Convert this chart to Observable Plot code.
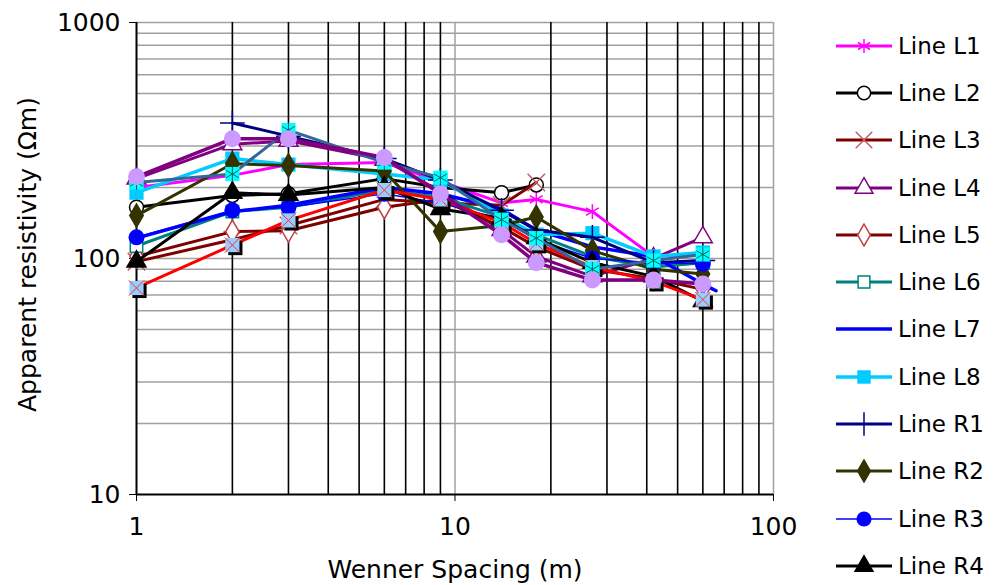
<!DOCTYPE html>
<html>
<head>
<meta charset="utf-8">
<script src="https://cdn.jsdelivr.net/npm/d3@7"></script>
<script src="https://cdn.jsdelivr.net/npm/@observablehq/plot@0.6"></script>
<style>
  body { margin: 0; background: #fff; }
  #wrap { position: relative; width: 997px; height: 585px; font-family: "DejaVu Sans", sans-serif; }
  #legend { position: absolute; left: 834px; top: 22px; }
  .row { display: flex; align-items: center; height: 47.3px; }
  .row span { font-size: 23px; color: #000; margin-left: 4px; }
</style>
</head>
<body>
<div id="wrap"><div id="chart"></div><div id="legend"></div></div>
<script>
// Wenner spacing (m)
const spacing = [1, 2, 3, 6, 9, 14, 18, 27, 42, 60, 66];
// Apparent resistivity (Ωm) per line; null = no reading
const lineL1 = [200, 225, 250, 255, 212, 172, 178, 158, 102, 105, null];
const lineL2 = [165, 185, 188, 218, 200, 190, 205, null, null, null, null];
const lineL3 = [97, 120, 138, 178, 172, 168, 210, null, null, null, null];
const lineL4 = [218, 305, 315, 262, 192, 132, 102, 84, 100, 123, null];
const lineL5 = [102, 130, 131, 165, 178, 136, 112, 90, 82, 74, null];
const lineL6 = [113, 158, 165, 195, 182, 150, 126, 102, 92, 96, null];
const lineL7 = [122, 158, 168, 200, 188, 162, 132, 112, 102, 78, 73];
const lineL8 = [190, 265, 250, 228, 215, 152, 126, 128, 102, 106, null];
const lineR1 = [null, 375, 330, 265, 215, 160, 132, 123, 96, 98, null];
const lineR2 = [152, 252, 248, 235, 130, 138, 150, 108, 90, 86, null];
const lineR3 = [123, 160, 165, 188, 172, 147, 120, 100, 96, 95, null];
const lineR4 = [97, 190, 186, 200, 162, 148, 122, 96, 84, 66, null];
const lineR5 = [75, 114, 145, 195, 178, 142, 116, 92, 80, 67, null];
const lineR6 = [210, 228, 350, 255, 220, 146, 122, 90, 98, 104, null];
const lineR7 = [222, 322, 322, 268, 188, 126, 96, 81, 81, 78, null];

const legendNames = ["Line L1","Line L2","Line L3","Line L4","Line L5","Line L6","Line L7","Line L8","Line R1","Line R2","Line R3","Line R4"];
const yTicks = [10, 100, 1000];
const xTicks = [1, 10, 100];
const yGrid = [20,30,40,50,60,70,80,90,100,200,300,400,500,600,700,800,900,1000];
const xMinor = [2,3,4,5,6,7,8,9,20,30,40,50,60,70,80,90];
const xMajor = [10, 100];

// style per series (drawing order = list order)
const series = [
  {name: "Line L1", vals: lineL1, color: "#FF00FF", w: 3, m: [{symbol: "asterisk", stroke: "#FF00FF", r: 7, sw: 1.5}]},
  {name: "Line L2", vals: lineL2, color: "#000000", w: 3, m: [{symbol: "circle", fill: "#fff", stroke: "#000", r: 7, sw: 1.5}]},
  {name: "Line L3", vals: lineL3, color: "#800000", w: 3, m: [{symbol: "times", stroke: "#C06060", r: 8, sw: 1.5}]},
  {name: "Line L4", vals: lineL4, color: "#800080", w: 3, m: [{symbol: "triangle", fill: "#fff", stroke: "#800080", r: 7, sw: 1.5}]},
  {name: "Line L5", vals: lineL5, color: "#800000", w: 3, m: [{symbol: "diamond", fill: "#fff", stroke: "#C04040", r: 7, sw: 1.5}]},
  {name: "Line L6", vals: lineL6, color: "#008080", w: 3, m: [{symbol: "square", fill: "#fff", stroke: "#008080", r: 7, sw: 1.5}]},
  {name: "Line L7", vals: lineL7, color: "#0000FF", w: 3.5, m: []},
  {name: "Line L8", vals: lineL8, color: "#00CCFF", w: 3.5, m: [{symbol: "square", fill: "#00CCFF", r: 8}]},
  {name: "Line R1", vals: lineR1, color: "#000080", w: 3, m: [{symbol: "plus", stroke: "#000080", r: 8, sw: 1.5}]},
  {name: "Line R2", vals: lineR2, color: "#333300", w: 3, m: [{symbol: "diamond", fill: "#333300", r: 8}]},
  {name: "Line R3", vals: lineR3, color: "#0000FF", w: 1.5, m: [{symbol: "circle", fill: "#0000FF", r: 8}]},
  {name: "Line R4", vals: lineR4, color: "#000000", w: 3, m: [{symbol: "triangle", fill: "#000", r: 8}]},
  {name: "Line R5", vals: lineR5, color: "#FF0000", w: 3, m: [{symbol: "square", fill: "#000", r: 8, dx: 3, dy: 3}, {symbol: "square", fill: "#99CCFF", r: 8}, {symbol: "times", stroke: "#FF3030", r: 7, sw: 1}]},
  {name: "Line R6", vals: lineR6, color: "#336699", w: 3, m: [{symbol: "square", fill: "#00FFFF", r: 8}, {symbol: "asterisk", stroke: "#006666", r: 7, sw: 1}]},
  {name: "Line R7", vals: lineR7, color: "#800080", w: 3.5, m: [{symbol: "circle", fill: "#CC99FF", r: 8.5}]}
];

const rows = [];
for (const s of series) spacing.forEach((x, i) => { if (s.vals[i] != null) rows.push({name: s.name, x, y: s.vals[i]}); });

const marks = [
  Plot.ruleY(yGrid, {stroke: "#A0A0A0", strokeWidth: 1.5}),
  Plot.ruleX(xMinor, {stroke: "#000", strokeWidth: 1.6}),
  Plot.ruleX(xMajor, {stroke: "#A0A0A0", strokeWidth: 1.5}),
  Plot.ruleX([1], {stroke: "#000", strokeWidth: 2}),
  Plot.ruleY([10], {stroke: "#000", strokeWidth: 2}),
  Plot.axisY({ticks: yTicks, tickFormat: d => String(d), tickSize: 7, tickPadding: 9, fontSize: 25, label: null}),
  Plot.axisX({ticks: xTicks, tickFormat: d => String(d), tickSize: 7, tickPadding: 16, fontSize: 25, label: null}),
  Plot.text(["Wenner Spacing (m)"], {frameAnchor: "bottom", dy: 83, fontSize: 25, lineAnchor: "bottom"}),
  Plot.text(["Apparent resistivity (Ωm)"], {frameAnchor: "left", textAnchor: "middle", dx: -109, dy: -4, rotate: -90, fontSize: 25})
];
for (const s of series) {
  const d = rows.filter(r => r.name === s.name);
  marks.push(Plot.line(d, {x: "x", y: "y", stroke: s.color, strokeWidth: s.w}));
  for (const m of s.m) {
    marks.push(Plot.dot(d, {x: "x", y: "y", symbol: m.symbol, r: m.r, fill: m.fill || "none", stroke: m.stroke || "none", strokeWidth: m.sw || 1, dx: m.dx || 0, dy: m.dy || 0}));
  }
}

const chart = Plot.plot({
  width: 800, height: 585,
  marginLeft: 136, marginRight: 27, marginTop: 22, marginBottom: 91,
  style: {fontFamily: "DejaVu Sans, sans-serif", color: "#000", background: "#fff"},
  x: {type: "log", domain: [1, 100]},
  y: {type: "log", domain: [10, 1000]},
  marks
});
document.getElementById("chart").appendChild(chart);

// legend
const symMap = {asterisk: d3.symbolAsterisk, circle: d3.symbolCircle, times: d3.symbolTimes, triangle: d3.symbolTriangle, diamond: d3.symbolDiamond, square: d3.symbolSquare, plus: d3.symbolPlus};
const leg = d3.select("#legend");
for (const name of legendNames) {
  const s = series.find(t => t.name === name);
  const row = leg.append("div").attr("class", "row");
  const svg = row.append("svg").attr("width", 60).attr("height", 24);
  svg.append("line").attr("x1", 2).attr("x2", 58).attr("y1", 12).attr("y2", 12).attr("stroke", s.color).attr("stroke-width", s.w);
  for (const m of s.m) {
    svg.append("path").attr("transform", "translate(30,12)")
      .attr("d", d3.symbol(symMap[m.symbol], Math.PI * m.r * m.r * 0.9)())
      .attr("fill", m.fill || "none").attr("stroke", m.stroke || "none").attr("stroke-width", m.sw || 1);
  }
  row.append("span").text(name);
}
</script>
</body>
</html>
